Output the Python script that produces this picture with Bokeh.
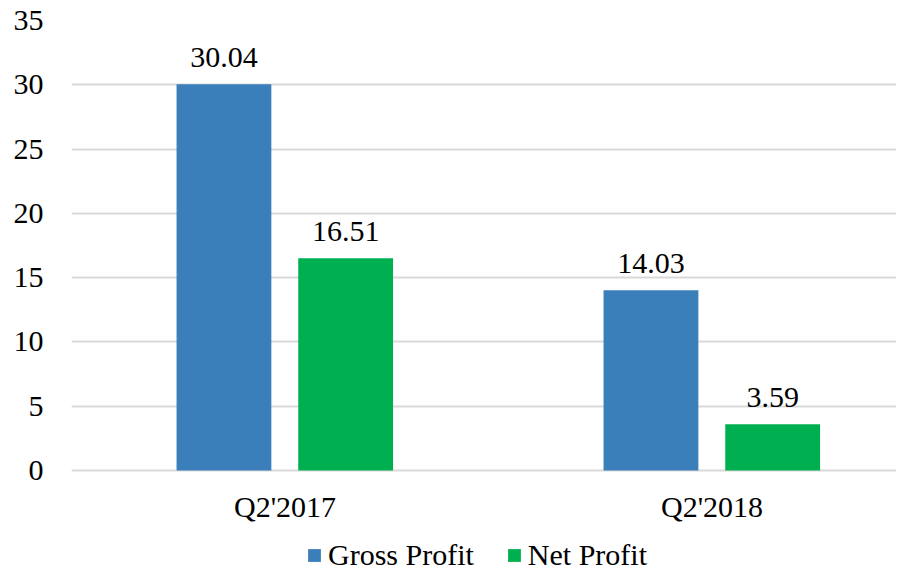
from bokeh.plotting import figure
from bokeh.models import (ColumnDataSource, Range1d, FixedTicker, Legend, LegendItem,
                          LabelSet)
from bokeh.transform import dodge
from bokeh.embed import file_html
from bokeh.resources import INLINE

categories = ["Q2'2017", "Q2'2018"]
gross_profit = [30.04, 14.03]
net_profit = [16.51, 3.59]
y_ticks = [0, 5, 10, 15, 20, 25, 30, 35]

FONT = "Liberation Serif"
FS = "30px"
BLUE = "#3A7EBA"
GREEN = "#00B050"
GRID = "#D9D9D9"

pos = [i + 0.5 for i in range(len(categories))]
src = ColumnDataSource(dict(
    x=pos,
    zero=[0] * len(categories),
    cat=categories,
    gross=gross_profit,
    net=net_profit,
    gross_lbl=[f"{v:.2f}" for v in gross_profit],
    net_lbl=[f"{v:.2f}" for v in net_profit],
))

# frame extends below the zero line so the category labels and legend sit inside it
p = figure(frame_width=825, frame_height=552, output_backend="svg", toolbar_location=None,
           x_range=Range1d(0, 1.932), y_range=Range1d(-7.93, 35),
           x_axis_location=None,
           min_border_left=71, min_border_right=0, min_border_top=20,
           min_border_bottom=0)
p.outline_line_color = None
p.background_fill_color = "white"
p.border_fill_color = "white"

g1 = p.vbar(x=dodge("x", -0.143), top="gross", width=0.222, source=src,
            fill_color=BLUE, line_color=None)
g2 = p.vbar(x=dodge("x", 0.142), top="net", width=0.222, source=src,
            fill_color=GREEN, line_color=None)

for field, lbl, off in (("gross", "gross_lbl", -0.143), ("net", "net_lbl", 0.142)):
    p.add_layout(LabelSet(x=dodge("x", off), y=field, text=lbl, source=src,
                          text_align="center", text_baseline="bottom", y_offset=17,
                          text_font=FONT, text_font_size=FS, text_color="#000000"))

# category labels under the zero line
p.add_layout(LabelSet(x="x", y="zero", text="cat", source=src,
                      text_align="center", text_baseline="top", y_offset=-19,
                      text_font=FONT, text_font_size=FS, text_color="#000000"))

# y axis
p.yaxis.ticker = FixedTicker(ticks=y_ticks)
p.yaxis.axis_line_color = None
p.yaxis.major_tick_line_color = None
p.yaxis.minor_tick_line_color = None
p.yaxis.major_tick_out = 0
p.yaxis.major_tick_in = 0
p.yaxis.major_label_text_font = FONT
p.yaxis.major_label_text_font_size = FS
p.yaxis.major_label_text_color = "#000000"
p.yaxis.major_label_standoff = 28

p.xgrid.grid_line_color = None
p.ygrid.ticker = FixedTicker(ticks=y_ticks)
p.ygrid.grid_line_color = GRID
p.ygrid.grid_line_width = 2

legend = Legend(items=[LegendItem(label="Gross Profit", renderers=[g1]),
                       LegendItem(label="Net Profit", renderers=[g2])],
                orientation="horizontal", location=(235, 0),
                label_text_font=FONT, label_text_font_size=FS,
                label_text_color="#000000", glyph_width=16, glyph_height=16,
                label_standoff=6, spacing=32, padding=0, margin=0,
                border_line_color=None, background_fill_alpha=0)
p.add_layout(legend, "center")

open("out.html", "w").write(file_html(p, INLINE))
